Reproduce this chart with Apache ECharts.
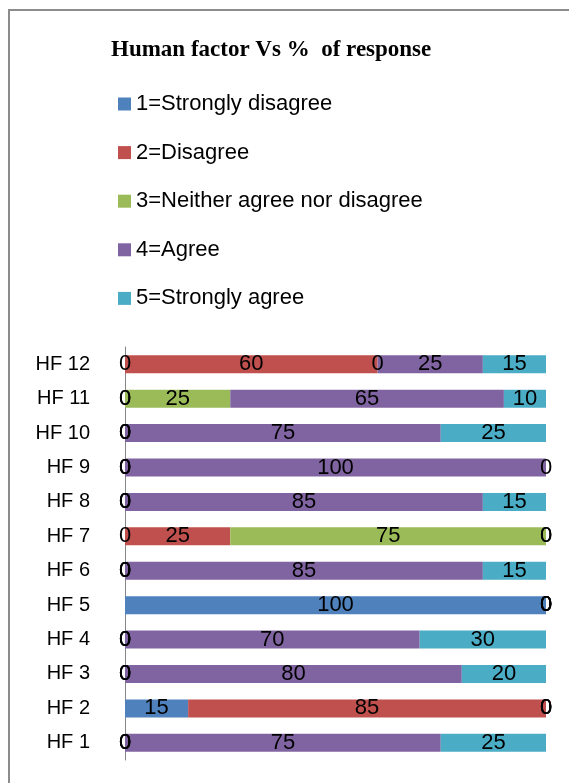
<!DOCTYPE html>
<html>
<head>
<meta charset="utf-8">
<script src="https://cdn.jsdelivr.net/npm/echarts@6/dist/echarts.min.js"></script>
<style>
html,body{margin:0;padding:0;background:#fff;}
#chart{width:569px;height:783px;}
</style>
</head>
<body>
<div id="chart"></div>
<script>
const categories = ['HF 1','HF 2','HF 3','HF 4','HF 5','HF 6','HF 7','HF 8','HF 9','HF 10','HF 11','HF 12'];
const seriesNames = ['1=Strongly disagree','2=Disagree','3=Neither agree nor disagree','4=Agree','5=Strongly agree'];
const stronglyDisagree = [0,15,0,0,100,0,0,0,0,0,0,0];
const disagree        = [0,85,0,0,0,0,25,0,0,0,0,60];
const neither         = [0,0,0,0,0,0,75,0,0,0,25,0];
const agree           = [75,0,80,70,0,85,0,85,100,75,65,25];
const stronglyAgree   = [25,0,20,30,0,15,0,15,0,25,10,15];
const colors = ['#4F81BD','#C0504D','#9BBB59','#8064A2','#4BACC6'];

const FONT = '"Liberation Sans",Arial,sans-serif';
const chart = echarts.init(document.getElementById('chart'));
const values = [stronglyDisagree, disagree, neither, agree, stronglyAgree];
chart.setOption({
  animation: false,
  color: colors,
  title: {
    text: 'Human factor Vs %  of response',
    left: 106, top: 34,
    textStyle: {fontFamily: '"Liberation Serif","Times New Roman",serif', fontWeight: 'bold', fontSize: 23, color: '#000'}
  },
  legend: {
    orient: 'vertical',
    left: 118, top: 92, padding: 0,
    itemWidth: 13, itemHeight: 13,
    itemGap: 24.6,
    icon: 'rect',
    textStyle: {fontFamily: FONT, fontSize: 22, lineHeight: 24, color: '#000'},
    data: seriesNames
  },
  graphic: [{
    type: 'rect', shape: {x: 9, y: 10, width: 700, height: 900},
    style: {fill: 'none', stroke: '#8c8c8c', lineWidth: 2}, silent: true
  }],
  grid: {left: 125, right: 23, top: 347, bottom: 23, containLabel: false},
  xAxis: {type: 'value', min: 0, max: 100, show: false},
  yAxis: {
    type: 'category', data: categories,
    axisLine: {show: true, lineStyle: {color: '#868686', width: 1}},
    axisTick: {show: false},
    axisLabel: {fontFamily: FONT, fontSize: 20, color: '#000', margin: 35}
  },
  series: values.map((v, i) => ({
    name: seriesNames[i], type: 'bar', stack: 'total', data: v,
    barWidth: 18,
    label: {show: true, position: 'inside', fontFamily: FONT, fontSize: 22, color: '#000'}
  }))
});
</script>
</body>
</html>
